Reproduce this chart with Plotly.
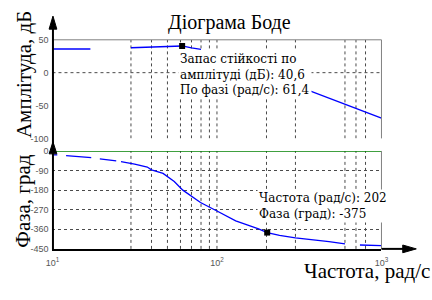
import plotly.graph_objects as go

# ---------------- data ----------------
# magnitude (dB); None = the curve is not visible there
MAG_FREQ = [10, 17, None, 30, 40, 50, 61.4, 70, 80, None, 300, 400, 500, 600, 700, 800, 1000]
MAG_DB   = [36, 36, None, 37.9, 38.8, 40.2, 40.6, 37.8, 35.5, None, -19.5, -31.5, -41, -48.5, -54.5, -59.5, -69]

PHASE_FREQ = [10.1, 10.7, None, 12.1, 17.2, None, 19.4, 24.4, None, 26.1, 31.6, 37.7, 40, 47, 50, 55, 62, 70,
              79.4, 100, 130, 179, 202, 240, 300, 480, 600, None, 740, 1000]
PHASE_DEG  = [-18, -18, None, -21, -31, None, -36, -46, None, -49, -60, -74, -87, -103, -117, -140, -180, -207,
              -237, -276, -321, -358, -375, -388, -399, -417, -427, None, -432, -435]

GM_POINT = (61.4, 40.6)      # marker on magnitude plot
PH_POINT = (202, -375)       # marker on phase plot

GRID_FREQS = [30, 40, 50, 60, 70, 80, 90, 100, 200, 300, 600, 700, 800]
MAG_TICKS = [50, 0, -50, -100]
PHASE_TICKS = [0, -90, -180, -270, -360, -450]
FREQ_TICKS = [10, 100, 1000]
FREQ_TICKTEXT = ["10<sup>1</sup>", "10<sup>2</sup>", "10<sup>3</sup>"]

TITLE = "Діограма Боде"
Y1_TITLE = "Амплітуда, дБ"
Y2_TITLE = "Фаза, град"
X_TITLE = "Частота, рад/с"
NOTE1 = "Запас стійкості по<br>амплітуді (дБ): 40,6<br>По фазі (рад/с): 61,4"
NOTE2 = "Частота (рад/с): 202<br>Фаза (град): -375"

# ---------------- layout helpers ----------------
W, H = 432, 300
def px(x):
    return x / W
def py(y):
    return 1 - y / H

BLUE = "#0000ff"
GRID = "#4a4a4a"
SERIF = "Liberation Serif"

fig = go.Figure()

def grid_trace(freqs, ylo, yhi, xa, ya):
    xs, ys = [], []
    for f in freqs:
        xs += [f, f, None]
        ys += [ylo, yhi, None]
    return go.Scatter(x=xs, y=ys, mode="lines", xaxis=xa, yaxis=ya,
                      line=dict(color=GRID, width=1, dash="dot"), hoverinfo="skip", showlegend=False)

# vertical grid lines
fig.add_trace(grid_trace(GRID_FREQS, MAG_TICKS[-1], MAG_TICKS[0], "x", "y"))
fig.add_trace(grid_trace(GRID_FREQS, PHASE_TICKS[-1], PHASE_TICKS[0], "x2", "y2"))
# 0 dB grid line
fig.add_trace(go.Scatter(x=[FREQ_TICKS[0], FREQ_TICKS[-1]], y=[0, 0], mode="lines", xaxis="x", yaxis="y",
                         line=dict(color=GRID, width=1, dash="dot"), hoverinfo="skip", showlegend=False))
# 0 deg reference (green)
fig.add_trace(go.Scatter(x=[FREQ_TICKS[0], FREQ_TICKS[-1]], y=[0, 0], mode="lines", xaxis="x2", yaxis="y2",
                         line=dict(color="#008000", width=1.6), hoverinfo="skip", showlegend=False))

# curves
fig.add_trace(go.Scatter(x=MAG_FREQ, y=MAG_DB, mode="lines", xaxis="x", yaxis="y",
                         line=dict(color=BLUE, width=1.3), connectgaps=False, showlegend=False))
fig.add_trace(go.Scatter(x=PHASE_FREQ, y=PHASE_DEG, mode="lines", xaxis="x2", yaxis="y2",
                         line=dict(color=BLUE, width=1.3), connectgaps=False, showlegend=False))
# markers
fig.add_trace(go.Scatter(x=[GM_POINT[0]], y=[GM_POINT[1]], mode="markers", xaxis="x", yaxis="y",
                         marker=dict(symbol="square", size=6, color="black"), cliponaxis=False, showlegend=False))
fig.add_trace(go.Scatter(x=[PH_POINT[0]], y=[PH_POINT[1]], mode="markers", xaxis="x2", yaxis="y2",
                         marker=dict(symbol="square", size=6, color="black"), cliponaxis=False, showlegend=False))

xdom = [px(47), px(387)]
tickfont = dict(family="Liberation Sans", size=9, color="#555555")

fig.update_layout(
    width=W, height=H,
    margin=dict(l=0, r=0, t=0, b=0),
    paper_bgcolor="white", plot_bgcolor="white",
    showlegend=False,
    xaxis=dict(domain=xdom, type="log", range=[1, 3], anchor="y", showticklabels=False,
               showgrid=False, zeroline=False, showline=False, ticks=""),
    xaxis2=dict(domain=xdom, type="log", range=[1, 3], anchor="y2", matches="x",
                tickvals=FREQ_TICKS, ticktext=FREQ_TICKTEXT, tickfont=tickfont,
                showgrid=False, zeroline=False, showline=True, linecolor="black", linewidth=2,
                ticks="", ticklabelstandoff=4),
    yaxis=dict(domain=[py(138), py(36)], range=[-100, 50], anchor="x",
               tickvals=MAG_TICKS, ticktext=[str(v) for v in MAG_TICKS], tickfont=tickfont,
               showgrid=False, zeroline=False, showline=False, ticks="", ticklabelstandoff=3),
    yaxis2=dict(domain=[py(252.3), py(151)], range=[-450, 0], anchor="x2",
                tickvals=PHASE_TICKS, ticktext=[str(v) for v in PHASE_TICKS], tickfont=tickfont,
                showgrid=True, gridcolor=GRID, gridwidth=1, griddash="dot",
                zeroline=False, showline=False, ticks="", ticklabelstandoff=3),
)

shapes = []
# gray borders
shapes.append(dict(type="line", xref="x domain", yref="y domain", x0=0, x1=1, y0=1, y1=1,
                   line=dict(color="#808080", width=1)))
shapes.append(dict(type="line", xref="x domain", yref="y domain", x0=1, x1=1, y0=0, y1=1,
                   line=dict(color="#808080", width=1)))
shapes.append(dict(type="line", xref="x2 domain", yref="y2 domain", x0=1, x1=1, y0=0, y1=1,
                   line=dict(color="#808080", width=1)))
# left black axis with arrows
shapes.append(dict(type="line", xref="paper", yref="paper", x0=px(47.5), x1=px(47.5), y0=py(20), y1=py(253.3),
                   line=dict(color="black", width=2)))
def tri_up(xc, ytip, ybase, hw):
    return (f"M {px(xc)} {py(ytip)} L {px(xc - hw)} {py(ybase)} L {px(xc + hw)} {py(ybase)} Z")
def tri_right(yc, xtip, xbase, hh):
    return (f"M {px(xtip)} {py(yc)} L {px(xbase)} {py(yc - hh)} L {px(xbase)} {py(yc + hh)} Z")
for path in [tri_up(47.5, 11.5, 25, 4), tri_up(47.5, 141.5, 154, 4)]:
    shapes.append(dict(type="path", xref="paper", yref="paper", path=path,
                       fillcolor="black", line=dict(color="black", width=1)))
shapes.append(dict(type="line", xref="paper", yref="paper", x0=px(387), x1=px(412), y0=py(252.3), y1=py(252.3),
                   line=dict(color="black", width=2)))
shapes.append(dict(type="path", xref="paper", yref="paper", path=tri_right(252.3, 423, 409, 4),
                   fillcolor="black", line=dict(color="black", width=1)))
fig.update_layout(shapes=shapes)

ann = []
ann.append(dict(text=TITLE, xref="paper", yref="paper", x=px(230), y=py(18), xanchor="center", yanchor="middle",
                showarrow=False, font=dict(family=SERIF, size=20, color="black")))
ann.append(dict(text=Y1_TITLE, xref="paper", yref="paper", x=px(17), y=py(72), xanchor="center", yanchor="middle",
                textangle=-90, showarrow=False, font=dict(family=SERIF, size=21, color="black")))
ann.append(dict(text=Y2_TITLE, xref="paper", yref="paper", x=px(17), y=py(203), xanchor="center", yanchor="middle",
                textangle=-90, showarrow=False, font=dict(family=SERIF, size=21, color="black")))
ann.append(dict(text=X_TITLE, xref="paper", yref="paper", x=px(305), y=py(275), xanchor="left", yanchor="middle",
                showarrow=False, font=dict(family=SERIF, size=21, color="black")))
ann.append(dict(text=NOTE1, xref="paper", yref="paper", x=px(177), y=py(47), xanchor="left", yanchor="top",
                align="left", showarrow=False, bgcolor="white", borderpad=1,
                font=dict(family="DejaVu Serif", size=12, color="black")))
ann.append(dict(text=NOTE2, xref="paper", yref="paper", x=px(258), y=py(190), xanchor="left", yanchor="top",
                align="left", showarrow=False, bgcolor="white", borderpad=1,
                font=dict(family="DejaVu Serif", size=12, color="black")))
fig.update_layout(annotations=ann)

fig.write_html("out.html")
